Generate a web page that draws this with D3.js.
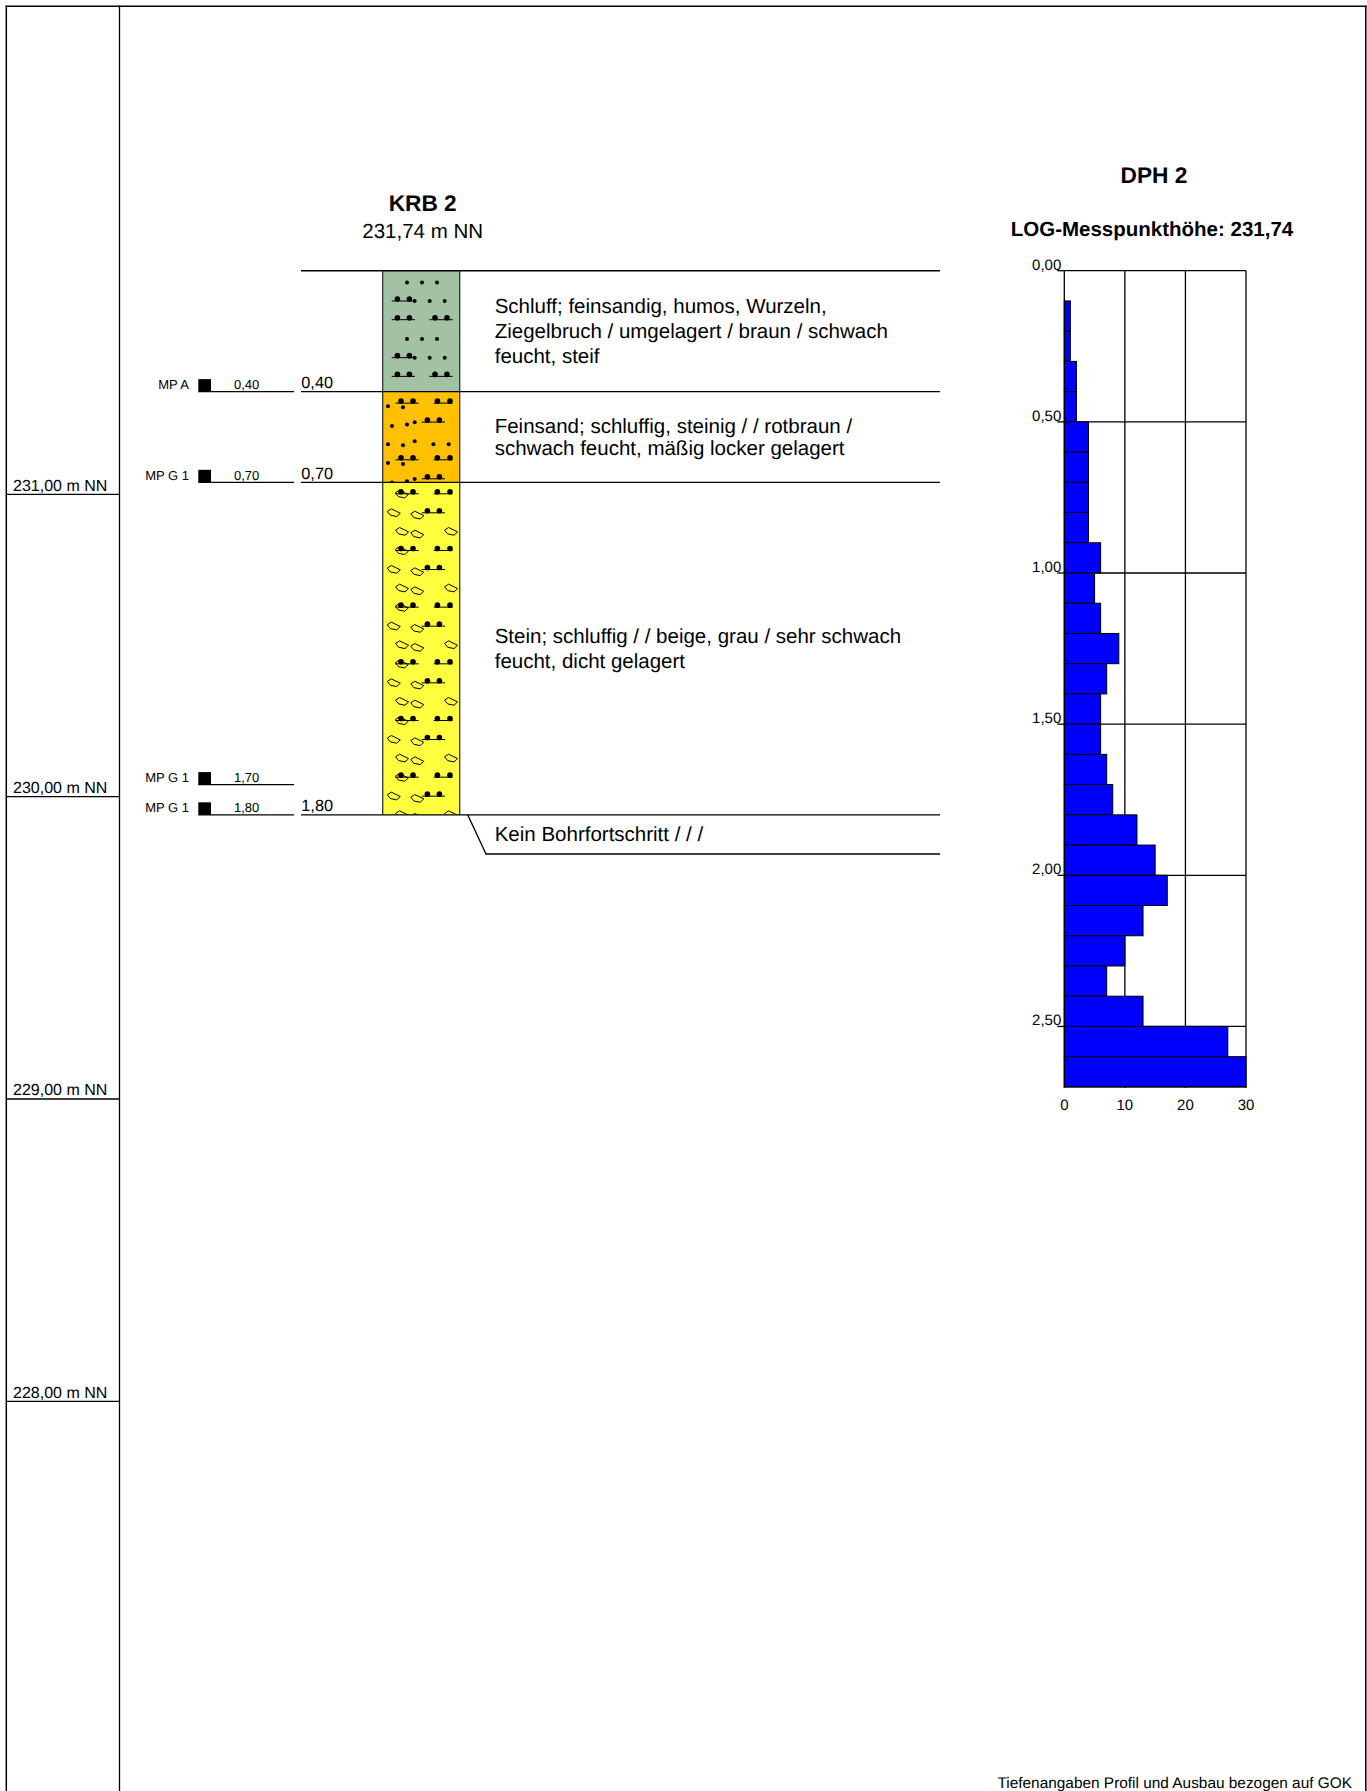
<!DOCTYPE html>
<html>
<head>
<meta charset="utf-8">
<script src="https://cdn.jsdelivr.net/npm/d3@7"></script>
<style>
  html, body { margin: 0; padding: 0; background: #fff; }
  svg { display: block; }
  text { font-family: "Liberation Sans", Arial, sans-serif; fill: #000; text-rendering: geometricPrecision; }
</style>
</head>
<body>
<script>
// Boring log
const layerDepths = [0, 0.4, 0.7, 1.8];
const layerColors = ["#a3c2a3", "#ffc000", "#ffff40"];
const layerLabels = [
  ["Schluff; feinsandig, humos, Wurzeln,", "Ziegelbruch / umgelagert / braun / schwach", "feucht, steif"],
  ["Feinsand; schluffig, steinig / / rotbraun /", "schwach feucht, mäßig locker gelagert"],
  ["Stein; schluffig / / beige, grau / sehr schwach", "feucht, dicht gelagert"]
];
const depthLabels = ["0,40", "0,70", "1,80"];
const sampleNames = ["MP A", "MP G 1", "MP G 1", "MP G 1"];
const sampleDepths = [0.4, 0.7, 1.7, 1.8];
const elevationTicks = [231, 230, 229, 228];

// Penetration test
const blowDepths = [0, 0.1, 0.2, 0.3, 0.4, 0.5, 0.6, 0.7, 0.8, 0.9, 1.0, 1.1, 1.2, 1.3, 1.4, 1.5, 1.6, 1.7, 1.8, 1.9, 2.0, 2.1, 2.2, 2.3, 2.4, 2.5, 2.6];
const blowCounts = [0, 1, 1, 2, 2, 4, 4, 4, 4, 6, 5, 6, 9, 7, 6, 6, 7, 8, 12, 15, 17, 13, 10, 7, 13, 27, 30];
const depthTicks = [0, 0.5, 1, 1.5, 2, 2.5];
const blowTicks = [0, 10, 20, 30];

const width = 1367;
const height = 1791;
const groundLevel = 231.74;

const svg = d3.select("body").append("svg")
  .attr("width", width)
  .attr("height", height)
  .attr("viewBox", [0, 0, width, height]);

const de = d3.formatLocale({ decimal: ",", thousands: ".", grouping: [3], currency: ["", " €"] });
const fmt = de.format(".2f");

// Depth scale, shared by the log and the DPH plot
const y = d3.scaleLinear().domain([0, 2.7]).range([270.7, 1086.9]);
const x = d3.scaleLinear().domain([0, 30]).range([1064.3, 1246]);

const lineWidth = 1.3;
const hline = (x1, x2, yy, sw = lineWidth, color = "#000") => svg.append("line")
  .attr("x1", x1).attr("x2", x2).attr("y1", yy).attr("y2", yy)
  .attr("stroke", color).attr("stroke-width", sw);
const vline = (xx, y1, y2, sw = lineWidth, color = "#000") => svg.append("line")
  .attr("x1", xx).attr("x2", xx).attr("y1", y1).attr("y2", y2)
  .attr("stroke", color).attr("stroke-width", sw);
const label = (xx, yy, s, size, anchor = "start", weight = "normal") => svg.append("text")
  .attr("x", xx).attr("y", yy).attr("font-size", size)
  .attr("text-anchor", anchor).attr("font-weight", weight).text(s);

// Frame
vline(6.3, 5.6, height, 1.5);
vline(119.5, 5.6, height);
vline(1365.8, 5.6, height, 1.5);
hline(5.6, 1366.5, 6.3, 1.5);

// Elevation labels
elevationTicks.forEach(e => {
  const yy = y(groundLevel - e);
  hline(6.3, 119.5, yy);
  label(13, yy - 3.7, `${fmt(e)} m NN`, 16);
});

// Headings
label(422.7, 210.7, "KRB 2", 22.7, "middle", "bold");
label(422.7, 238, "231,74 m NN", 20.5, "middle");
label(1154, 182.7, "DPH 2", 22.7, "middle", "bold");
label(1152, 236, "LOG-Messpunkthöhe: 231,74", 20.5, "middle", "bold");

// Soil column
const colLeft = 382.7;
const colWidth = 77;
const tileHeight = 56.67;

// Texture tiles, relative to column left and layer top
const siltA = [[28.3, 14.7, 26.7, 9, 32.3], [47, 14.7, 26.7, 9, 32.3], [47, 52.3, 64.3, 46.7, 70]];
const siltB = [[9.5, 18.3, 30.3, 12.7, 36], [9.5, 54.7, 67.3, 51, 70], [28.5, 44.7, 56.7, 39, 62.3]];
const sandA = [[24.3, 11.7], [39.3, 11.7], [54.3, 11.7], [32, 30.3], [47, 30.3], [62, 30.3]];
const sandB = [[5.3, 14.7], [20.3, 15.7], [9.3, 34.3], [24.3, 33], [32, 30.7], [5.3, 52.7], [20.3, 53.7], [32, 49.7], [50.7, 52.7], [66, 52.7]];
const stones = [[19, 11.7], [11, 30.3], [34.5, 32.7], [19.3, 49], [34.5, 51.7], [68.3, 49]];
const layerTextures = [
  { silt: siltA, sand: sandA, stone: [] },
  { silt: siltB, sand: sandB, stone: [] },
  { silt: siltB, sand: [], stone: stones }
];
const stoneShape = "M-6.4,-1.2L-2.4,-3.8L6.6,0.6L3,3.9L-3.4,2.6Z";

const defs = svg.append("defs");
layerColors.forEach((color, i) => {
  const top = y(layerDepths[i]);
  const h = y(layerDepths[i + 1]) - top;
  svg.append("rect")
    .attr("x", colLeft).attr("y", top).attr("width", colWidth).attr("height", h)
    .attr("fill", color);

  defs.append("clipPath").attr("id", `layer-${i}`)
    .append("rect").attr("x", colLeft).attr("y", top).attr("width", colWidth).attr("height", h);

  const g = svg.append("g")
    .attr("clip-path", `url(#layer-${i})`);
  const tex = layerTextures[i];
  for (let k = 0; k * tileHeight < h; k++) {
    const t = g.append("g").attr("transform", `translate(${colLeft},${top + k * tileHeight})`);
    tex.stone.forEach(([sx, sy]) => t.append("path")
      .attr("transform", `translate(${sx},${sy})`)
      .attr("d", stoneShape).attr("fill", "none").attr("stroke", "#000").attr("stroke-width", 1));
    tex.sand.forEach(([sx, sy]) => t.append("circle")
      .attr("cx", sx).attr("cy", sy).attr("r", 2).attr("fill", "#000"));
    tex.silt.forEach(([dy, a, b, l1, l2]) => {
      t.append("circle").attr("cx", a).attr("cy", dy).attr("r", 2.8).attr("fill", "#000");
      t.append("circle").attr("cx", b).attr("cy", dy).attr("r", 2.8).attr("fill", "#000");
      t.append("line").attr("x1", l1).attr("x2", l2).attr("y1", dy + 2).attr("y2", dy + 2)
        .attr("stroke", "#000").attr("stroke-width", 1);
    });
  }
});
vline(colLeft, y(0), y(1.8), lineWidth, "#333");
vline(colLeft + colWidth, y(0), y(1.8), lineWidth, "#333");

// Layer boundaries
layerDepths.forEach(d => hline(301, 940, y(d), d === 0 ? 1.5 : lineWidth));

// Layer descriptions
const textLeft = 494.7;
const labelBaselines = [[312.7, 337.7, 362.7], [433, 455], [642.7, 667.7]];
layerLabels.forEach((lines, i) => {
  lines.forEach((s, j) => label(textLeft, labelBaselines[i][j], s, 20.5));
});

// Final note with leader
svg.append("path")
  .attr("d", `M467.7,${y(1.8)}L486,854H940`)
  .attr("fill", "none").attr("stroke", "#000").attr("stroke-width", lineWidth);
label(textLeft, 840.7, "Kein Bohrfortschritt / / /", 20.5);

// Depth labels next to the column
depthLabels.forEach((s, i) => label(333, y(layerDepths[i + 1]) - 3.7, s, 16.3, "end"));

// Samples
sampleDepths.forEach((d, i) => {
  const yy = y(d);
  svg.append("rect")
    .attr("x", 198.3).attr("y", yy - 12.5).attr("width", 12.7).attr("height", 12.5)
    .attr("fill", "#000");
  hline(198.3, 294, yy);
  label(189, yy - 2.5, sampleNames[i], 13, "end");
  label(246.7, yy - 2.5, fmt(d), 13, "middle");
});

// DPH grid
blowTicks.slice(1).forEach(v => vline(x(v), y(0), y(2.7)));
depthTicks.forEach(d => hline(x(0), x(30), y(d)));

// DPH bars
svg.append("g")
  .selectAll("rect")
  .data(blowCounts)
  .join("rect")
  .attr("x", x(0))
  .attr("y", (d, i) => y(blowDepths[i]))
  .attr("width", d => x(d) - x(0))
  .attr("height", (d, i) => y(blowDepths[i] + 0.1) - y(blowDepths[i]))
  .attr("fill", "#0000ff")
  .attr("stroke", "#000")
  .attr("stroke-width", 1);

// DPH axes
const yAxis = svg.append("g")
  .attr("transform", `translate(${x(0)},0)`)
  .call(d3.axisLeft(y).tickValues(depthTicks).tickFormat(fmt).tickSizeInner(7).tickSizeOuter(0).tickPadding(-4).offset(0));
yAxis.select(".domain").attr("stroke-width", lineWidth);
yAxis.selectAll(".tick line").attr("stroke-width", lineWidth);
yAxis.selectAll(".tick text").attr("dy", "-0.08em").attr("font-size", 15).attr("font-family", null);

const xAxis = svg.append("g")
  .attr("transform", `translate(0,${y(2.7)})`)
  .call(d3.axisBottom(x).tickValues(blowTicks).tickSizeInner(1).tickSizeOuter(0).tickPadding(11).offset(0));
xAxis.select(".domain").attr("stroke-width", lineWidth);
xAxis.selectAll(".tick line").attr("stroke-width", lineWidth);
xAxis.selectAll(".tick text").attr("font-size", 15).attr("font-family", null);

// Footer
label(1352, 1788, "Tiefenangaben Profil und Ausbau bezogen auf GOK", 15.4, "end");
</script>
</body>
</html>
